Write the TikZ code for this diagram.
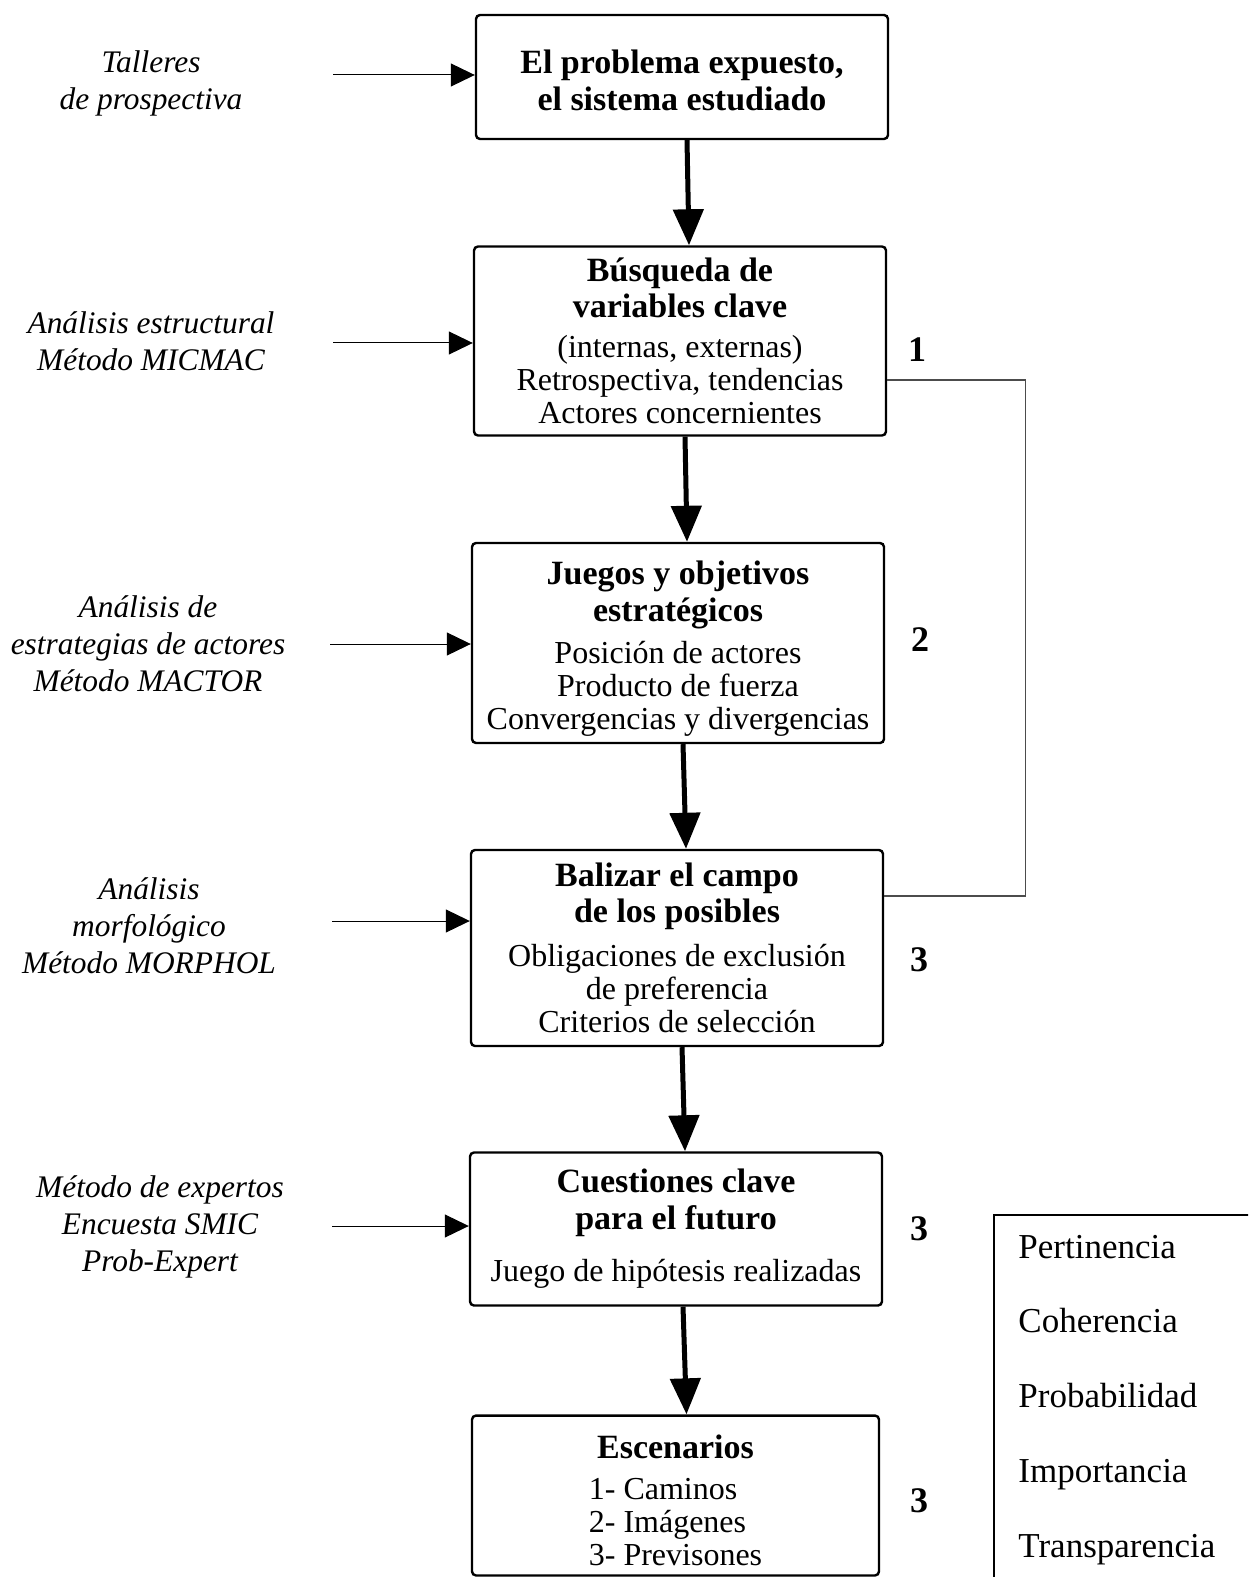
\documentclass[tikz,border=0pt]{standalone}
\usepackage{fontspec}
\setmainfont{Liberation Serif}
\usetikzlibrary{arrows.meta}
\def\boxw{206pt}
\newcommand{\bt}[1]{{\fontsize{17}{18}\selectfont\bfseries #1}}

\begin{document}
\begin{tikzpicture}[x=0.5pt, y=-0.5pt,
  etapa/.style={draw, line width=1.2pt, rounded corners=2pt, minimum width=\boxw, align=center, font=\fontsize{16}{16.5}\selectfont},
  metodo/.style={align=center, font=\fontsize{15.7}{18.5}\selectfont\itshape},
  numero/.style={font=\fontsize{18}{20}\selectfont\bfseries},
  gros/.style={line width=2.5pt, -{Triangle[length=18pt,width=15pt]}},
  fin/.style={line width=0.5pt, -{Triangle[length=12pt,width=11.5pt]}},
  lien/.style={line width=0.7pt, black!70}]
\useasboundingbox (0,0) rectangle (1248,1577);
\clip (0,0) rectangle (1248,1577);
% etapas
\node[etapa, minimum height=62pt] (b1) at (682,77) {\bt{\rule{0pt}{15pt}El problema expuesto,}\\[2pt] \bt{el sistema estudiado}};
\node[etapa, minimum height=94.5pt] (b2) at (680,341) {\bt{Búsqueda de}\\[1.5pt] \bt{variables clave}\\[3.5pt] (internas, externas)\\ Retrospectiva, tendencias\\ Actores concernientes};
\node[etapa, minimum height=100pt] (b3) at (678,643) {\bt{\rule{0pt}{17pt}Juegos y objetivos}\\[2pt] \bt{estratégicos}\\[4.5pt] Posición de actores\\ Producto de fuerza\\ Convergencias y divergencias};
\node[etapa, minimum height=98pt] (b4) at (677,948) {\bt{Balizar el campo}\\[1.5pt] \bt{de los posibles}\\[5.5pt] Obligaciones de exclusión\\ de preferencia\\ Criterios de selección};
\node[etapa, minimum height=76.5pt] (b5) at (676,1229) {\bt{Cuestiones clave}\\[2pt] \bt{para el futuro}\\[9.5pt] Juego de hipótesis realizadas};
\node[etapa, minimum height=79.5pt, minimum width=203.5pt, inner ysep=0pt] (b6) at (675.5,1495.5) {\bt{\rule{0pt}{21.5pt}Escenarios}\\[4pt] \begin{tabular}[t]{@{}l@{}}1- Caminos\\ 2- Imágenes\\ 3- Previsones\end{tabular}};
% metodos
\node[metodo] (m1) at (151,83) {Talleres\\ de prospectiva};
\node[metodo] (m2) at (151,341) {Análisis estructural\\ Método MICMAC};
\node[metodo] (m3) at (148,644) {Análisis de\\ estrategias de actores\\ Método MACTOR};
\node[metodo] (m4) at (149,926) {Análisis\\ morfológico\\ Método MORPHOL};
\node[metodo] (m5) at (160,1227) {Método de expertos\\ Encuesta SMIC\\ Prob-Expert};
\coordinate (a1) at (333,75);
\coordinate (a2) at (333,343);
\coordinate (a3) at (330,644);
\coordinate (a4) at (332,921);
\coordinate (a5) at (332,1226);
\draw[fin] (a1) -- (a1 -| b1.west);
\draw[fin] (a2) -- (a2 -| b2.west);
\draw[fin] (a3) -- (a3 -| b3.west);
\draw[fin] (a4) -- (a4 -| b4.west);
\draw[fin] (a5) -- (a5 -| b5.west);
% flechas gruesas
\draw[gros] ([xshift=2.5pt]b1.south) -- ([xshift=4.5pt]b2.north);
\draw[gros] ([xshift=2.5pt]b2.south) -- ([xshift=4.5pt]b3.north);
\draw[gros] ([xshift=2.5pt]b3.south) -- ([xshift=4.5pt]b4.north);
\draw[gros] ([xshift=2.5pt]b4.south) -- ([xshift=4.5pt]b5.north);
\draw[gros] ([xshift=3.5pt]b5.south) -- ([xshift=5.5pt]b6.north);
\draw[lien] ([yshift=-19.5pt]b2.east) -- ++(138,0) |- ([yshift=26pt]b4.east);
% numeros
\node[numero] (n1) at (917,350) {1};
\node[numero] (n2) at (920,640) {2};
\node[numero] (n3) at (919,960) {3};
\node[numero] (n4) at (919,1229) {3};
\node[numero] (n5) at (919,1501) {3};
% criterios
\draw[line width=1pt] (994,1215) rectangle (1270,1600);
\foreach \mot [count=\i] in {Pertinencia,Coherencia,Probabilidad,Importancia,Transparencia}
  \node[anchor=base west, inner sep=0pt, font=\fontsize{17.5}{20}\selectfont] (l\i) at (1018,{1258+74.75*(\i-1)}) {\mot};
\end{tikzpicture}
\end{document}
